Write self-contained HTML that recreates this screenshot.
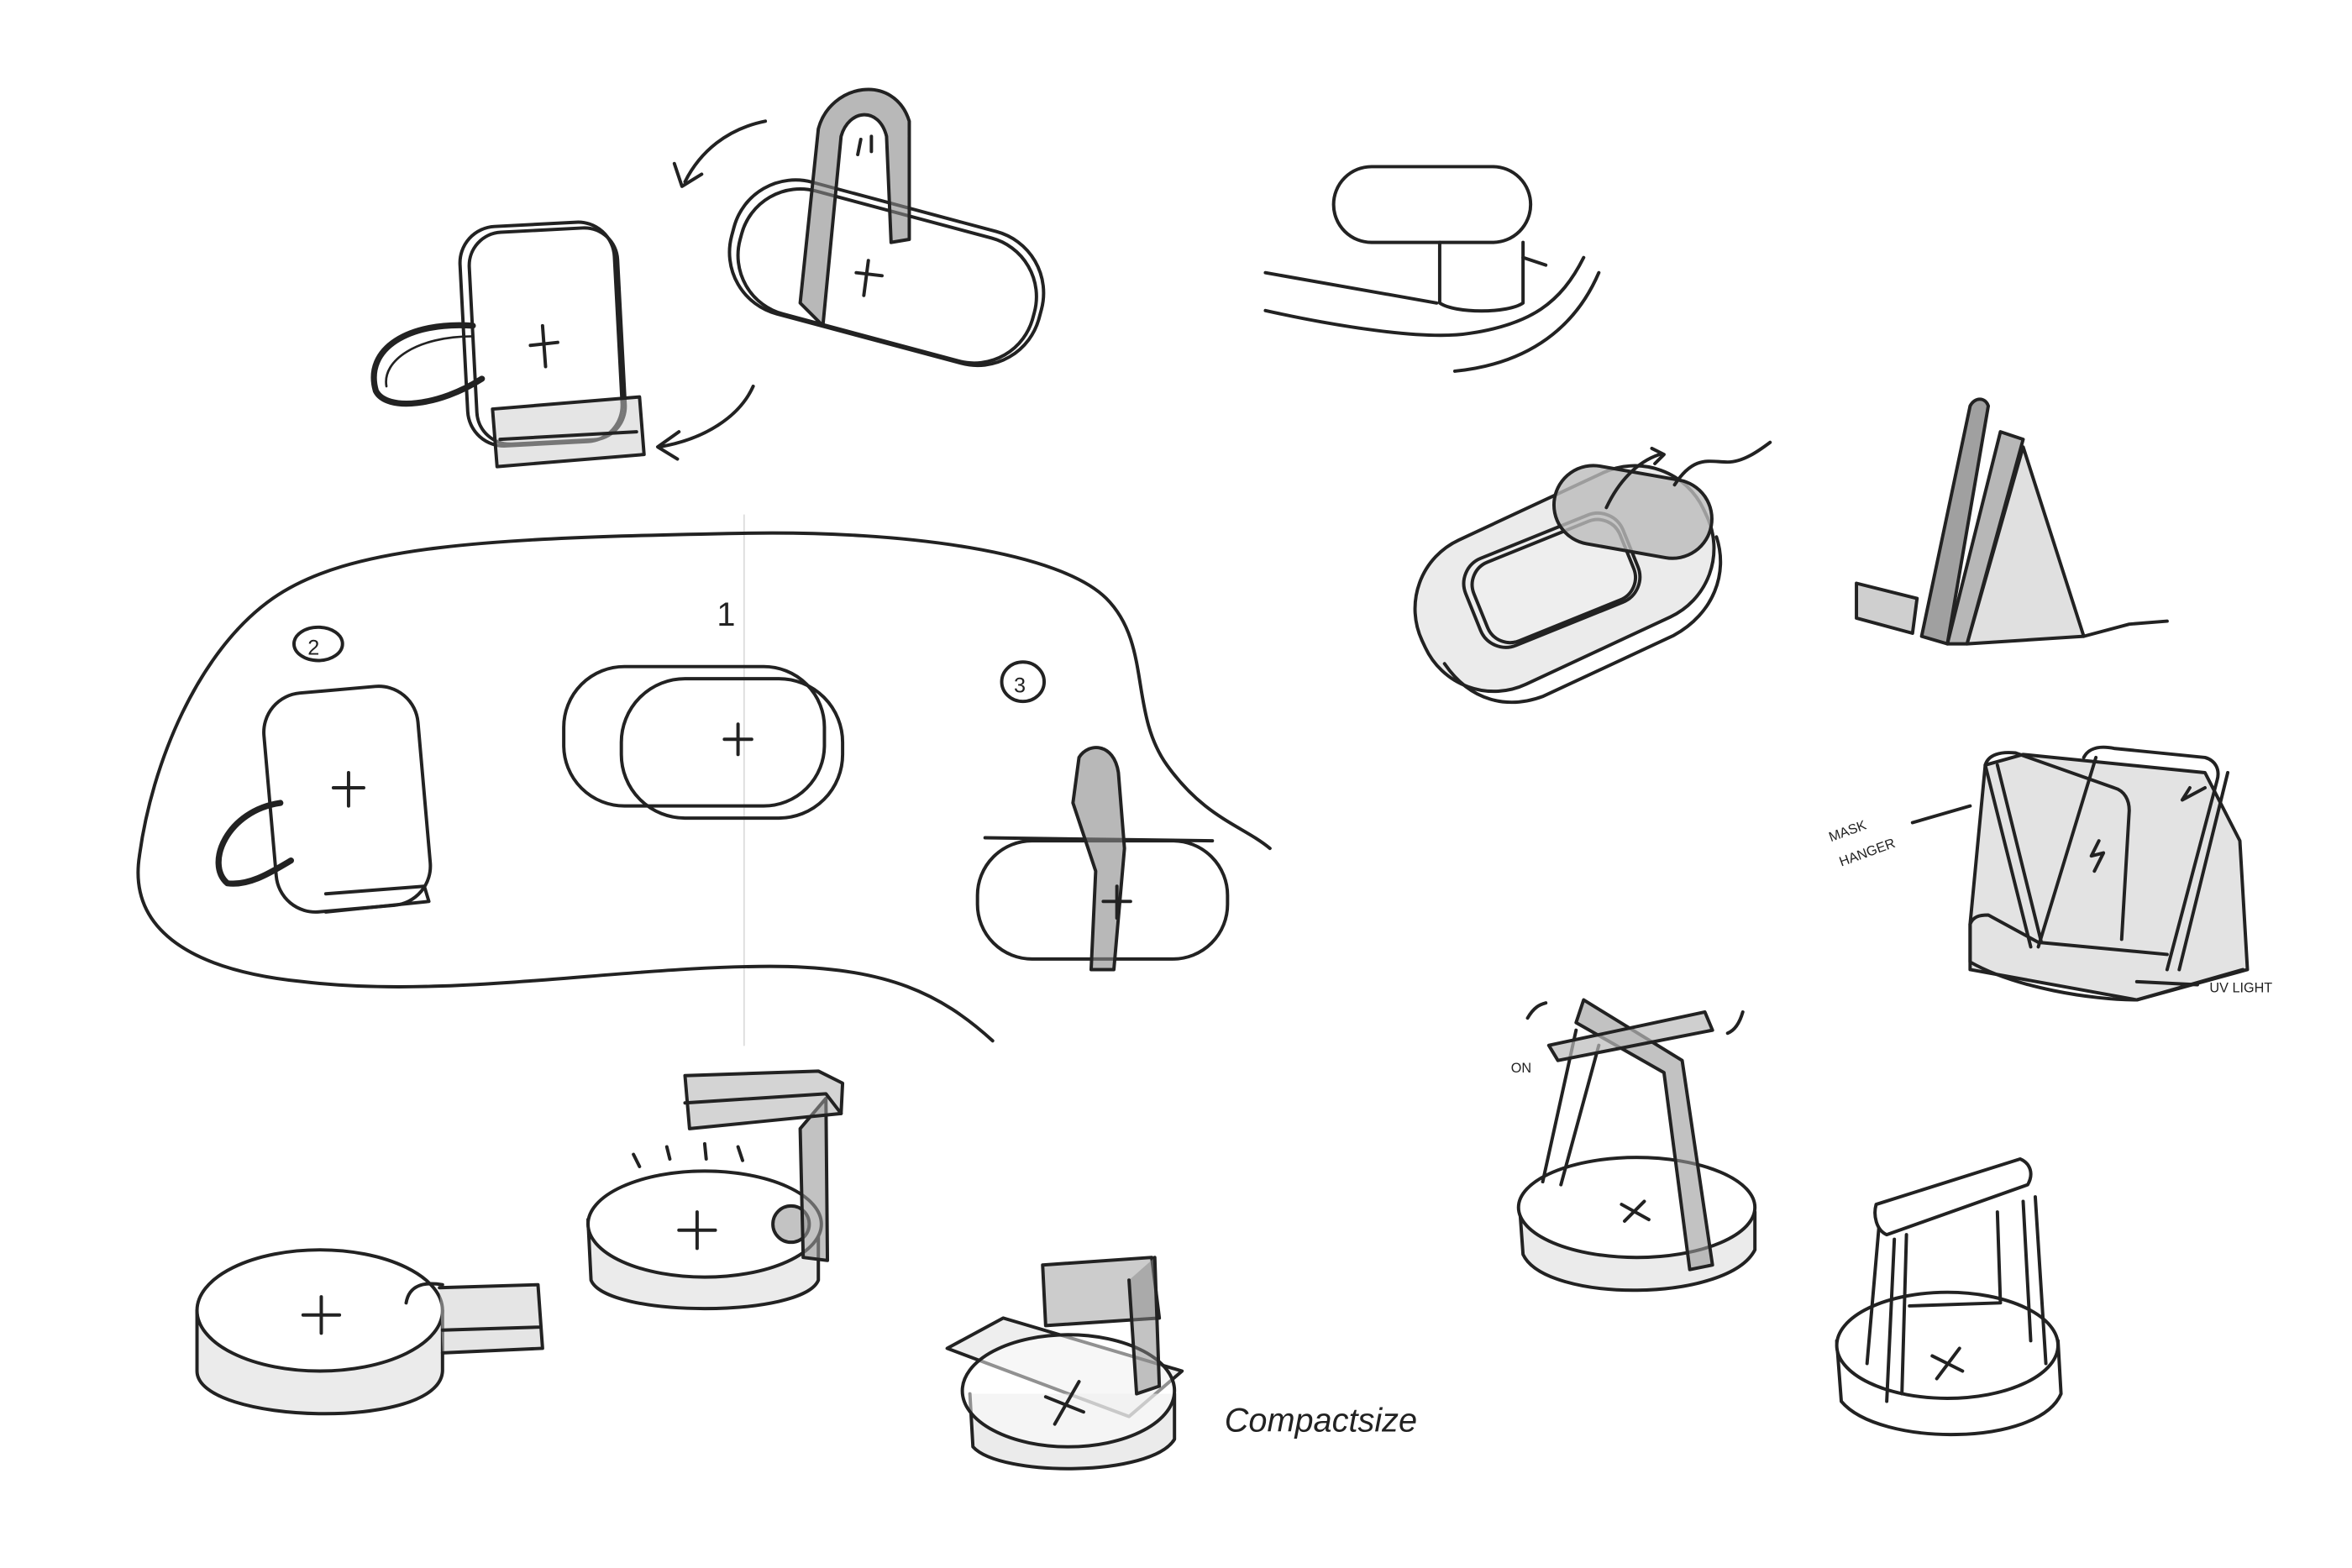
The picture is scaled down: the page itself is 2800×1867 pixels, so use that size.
<!DOCTYPE html>
<html><head><meta charset="utf-8"><style>
html,body{margin:0;padding:0;background:#fff;}
svg{display:block;}
text{font-family:"Liberation Sans",sans-serif;fill:#222;}
</style></head><body>
<svg width="2800" height="1867" viewBox="0 0 1552 1035" preserveAspectRatio="none" xmlns="http://www.w3.org/2000/svg">
<g fill="none" stroke="#222" stroke-width="2.2" stroke-linecap="round" stroke-linejoin="round">
<line x1="491" y1="340" x2="491" y2="690" stroke="#ddd" stroke-width="1"/>

<!-- top-left device -->
<path d="M312,215 C270,212 240,230 248,258 C255,272 290,268 318,250" stroke-width="4"/>
<path d="M312,222 C275,222 252,238 255,255" stroke-width="1.5"/>
<rect x="306" y="148" width="102" height="145" rx="24" transform="rotate(-3 357 220)"/>
<rect x="312" y="152" width="98" height="140" rx="22" transform="rotate(-3 357 220)"/>
<path d="M325,270 L422,262 L425,300 L328,308 Z" fill="#ccc" fill-opacity="0.5"/>
<path d="M330,290 L420,285"/>
<path d="M350,228 L368,226 M358,215 L360,242"/>
<!-- top-middle device -->
<g transform="rotate(15 585 180)">
<rect x="480" y="135" width="210" height="90" rx="42"/>
<rect x="486" y="140" width="200" height="84" rx="40"/>
</g>
<path d="M528,200 L540,85 C548,55 590,48 600,80 L600,158 L588,160 L585,90 C580,70 560,72 555,90 L543,215 Z" fill="#888" fill-opacity="0.6"/>
<path d="M565,180 L582,182 M573,172 L570,195"/>
<path d="M568,92 L566,102 M575,90 L575,100"/>
<path d="M505,80 C480,85 462,100 452,120"/>
<path d="M445,108 L450,123 L463,115"/>
<path d="M497,255 C488,275 465,290 435,295"/>
<path d="M448,285 L434,295 L447,303"/>

<!-- top right -->
<rect x="880" y="110" width="130" height="50" rx="25"/>
<path d="M950,160 L950,200 C960,207 995,207 1005,200 L1005,160"/>
<path d="M835,180 L948,200 M835,205 C880,215 940,225 970,220 C1010,214 1030,200 1045,170 M1005,170 L1020,175"/>
<path d="M960,245 C1010,240 1040,215 1055,180"/>

<!-- blob -->
<path d="M655,687 C620,655 585,640 520,638 C420,636 300,660 200,648 C120,640 85,610 92,565 C100,505 130,430 180,395 C230,360 320,355 490,352 C600,350 700,365 730,395 C760,425 745,470 770,505 C795,540 820,545 838,560"/>
<ellipse cx="210" cy="425" rx="16" ry="11"/>
<text x="203" y="432" font-size="14" stroke="none">2</text>
<path d="M185,530 C150,535 135,570 150,583 C165,585 180,575 192,568" stroke-width="4"/>
<rect x="178" y="455" width="102" height="145" rx="26" transform="rotate(-5 229 527)"/>
<path d="M215,590 L280,585 L283,595 L215,602"/>
<path d="M220,520 L240,520 M230,510 L230,532"/>
<text x="473" y="413" font-size="22" stroke="none">1</text>
<rect x="372" y="440" width="172" height="92" rx="40"/>
<rect x="410" y="448" width="146" height="92" rx="42"/>
<path d="M478,488 L496,488 M487,478 L487,498"/>
<ellipse cx="675" cy="450" rx="14" ry="13"/>
<text x="669" y="457" font-size="14" stroke="none">3</text>
<rect x="645" y="555" width="165" height="78" rx="36"/>
<path d="M650,553 L800,555"/>
<path d="M708,530 L712,500 C718,490 735,490 738,510 L742,560 L735,640 L720,640 L723,575 Z" fill="#888" fill-opacity="0.6"/>
<path d="M728,595 L746,595 M737,585 L737,606"/>

<!-- bottom left disc -->
<path d="M130,865 L130,905 C130,940 290,945 292,905 L292,865" fill="#ddd" fill-opacity="0.6"/>
<ellipse cx="211" cy="865" rx="81" ry="40" fill="#fff"/>
<path d="M200,868 L224,868 M212,856 L212,880"/>
<path d="M290,850 L355,848 L358,890 L292,893" fill="#ccc" fill-opacity="0.5"/>
<path d="M268,860 C270,848 280,846 292,848"/>
<path d="M292,878 L356,876"/>
<!-- lamp -->
<path d="M388,805 L390,845 C400,870 530,870 540,845 L540,810" fill="#ddd" fill-opacity="0.6"/>
<ellipse cx="465" cy="808" rx="77" ry="35" fill="#fff"/>
<circle cx="522" cy="808" r="12" fill="#888" fill-opacity="0.5"/>
<path d="M448,812 L472,812 M460,800 L460,824"/>
<path d="M528,745 L530,830 L546,832 L545,725 Z" fill="#999" fill-opacity="0.6"/>
<path d="M452,710 L540,707 L556,715 L555,735 L455,745 Z" fill="#aaa" fill-opacity="0.5"/>
<path d="M452,728 L545,722 L555,735"/>
<path d="M418,762 L422,770 M440,757 L442,765 M465,755 L466,765 M487,757 L490,766"/>
<!-- compact -->
<path d="M625,890 L662,870 L780,905 L745,935 Z" fill="#eee"/>
<path d="M640,920 L642,955 C660,975 760,975 775,950 L775,920" fill="#ddd" fill-opacity="0.6"/>
<ellipse cx="705" cy="918" rx="70" ry="37" fill="#fff" fill-opacity="0.5"/>
<path d="M690,922 L715,932 M712,912 L696,940"/>
<path d="M688,835 L760,830 L765,870 L690,875 Z" fill="#aaa" fill-opacity="0.6"/>
<path d="M745,845 L750,920 L765,915 L762,830" fill="#888" fill-opacity="0.5"/>
<text x="808" y="945" font-size="22" stroke="none" font-style="italic">Compactsize</text>

<!-- mouse -->
<g transform="rotate(-25 1030 378)">
<rect x="928" y="330" width="205" height="105" rx="50" fill="#ddd" fill-opacity="0.6"/>
<path d="M935,400 C940,430 960,445 985,447 L1080,447 C1110,445 1130,425 1133,400" />
</g>
<rect x="968" y="352" width="112" height="62" rx="18" transform="rotate(-22 1024 383)" fill="#eee"/>
<rect x="973" y="356" width="104" height="56" rx="16" transform="rotate(-22 1024 383)"/>
<rect x="1025" y="312" width="105" height="52" rx="26" transform="rotate(10 1078 338)" fill="#bbb" fill-opacity="0.8"/>
<path d="M1060,335 C1068,318 1080,305 1095,300 M1090,296 L1098,300 L1092,306"/>
<path d="M1105,320 C1118,300 1128,305 1140,305 C1150,305 1160,298 1168,292"/>
<!-- triangle stand -->
<path d="M1225,385 L1265,395 L1262,418 L1225,408 Z" fill="#bbb" fill-opacity="0.7"/>
<path d="M1268,420 L1300,268 C1303,262 1310,262 1312,268 L1285,425 Z" fill="#777" fill-opacity="0.7"/>
<path d="M1285,425 L1320,285 L1335,290 L1298,425 Z" fill="#999" fill-opacity="0.7"/>
<path d="M1298,425 L1335,295 L1375,420 Z" fill="#ccc" fill-opacity="0.6"/>
<path d="M1375,420 L1405,412 L1430,410"/>
<!-- mask hanger -->
<path d="M1300,610 L1310,505 L1335,498 L1455,510 L1478,555 L1483,640 L1410,660 L1300,640 Z" fill="#ccc" fill-opacity="0.55"/>
<path d="M1310,505 C1312,498 1320,496 1330,497 L1395,520 C1402,522 1405,528 1405,535 L1400,620"/>
<path d="M1310,505 L1340,625 M1318,505 L1347,622"/>
<path d="M1375,500 C1378,494 1385,492 1395,494 L1455,500 C1462,502 1465,508 1463,515 L1430,640 M1383,500 L1345,625 M1470,510 L1438,640"/>
<path d="M1300,610 L1300,635 C1330,652 1380,660 1410,660 L1480,640 M1300,610 C1302,605 1306,604 1312,604 L1345,622 L1430,630"/>
<path d="M1440,528 L1455,520 M1440,528 L1445,520"/>
<path d="M1385,555 L1380,565 L1388,563 L1382,575"/>
<path d="M1262,543 L1300,532 M1410,648 L1450,650"/>
<text x="1208" y="555" font-size="9" stroke="none" transform="rotate(-20 1210 555)">MASK</text>
<text x="1215" y="572" font-size="9" stroke="none" transform="rotate(-20 1215 572)">HANGER</text>
<text x="1458" y="655" font-size="9" stroke="none">UV LIGHT</text>
<!-- lamp right 1 -->
<path d="M1003,800 L1005,828 C1020,860 1140,860 1158,825 L1158,800" fill="#ddd" fill-opacity="0.6"/>
<ellipse cx="1080" cy="797" rx="78" ry="33" fill="#fff"/>
<path d="M1070,795 L1088,805 M1085,793 L1072,806"/>
<path d="M1040,680 L1018,780 M1055,690 L1030,782"/>
<path d="M1045,660 L1110,700 L1130,835 L1115,838 L1098,708 L1040,675 Z" fill="#999" fill-opacity="0.6"/>
<path d="M1022,690 L1125,668 L1130,680 L1028,700 Z" fill="#bbb" fill-opacity="0.7"/>
<path d="M1008,672 C1012,665 1016,663 1020,662 M1150,668 C1148,675 1145,680 1140,682"/>
<text x="997" y="708" font-size="9" stroke="none">ON</text>
<!-- lamp right 2 -->
<path d="M1212,885 L1215,925 C1240,955 1345,955 1360,920 L1358,885" fill="#fff"/>
<ellipse cx="1285" cy="888" rx="73" ry="35" fill="#fff"/>
<path d="M1275,895 L1295,905 M1293,890 L1278,910"/>
<path d="M1250,818 L1245,925 M1258,815 L1255,920"/>
<path d="M1318,800 L1320,860 L1260,862"/>
<path d="M1240,808 L1232,900 M1343,790 L1350,900 M1335,793 L1340,885"/>
<path d="M1238,795 L1333,765 C1340,768 1342,775 1338,782 L1245,815 C1238,812 1236,802 1238,795 Z" fill="#fff"/>
</g>
</svg>
</body></html>
